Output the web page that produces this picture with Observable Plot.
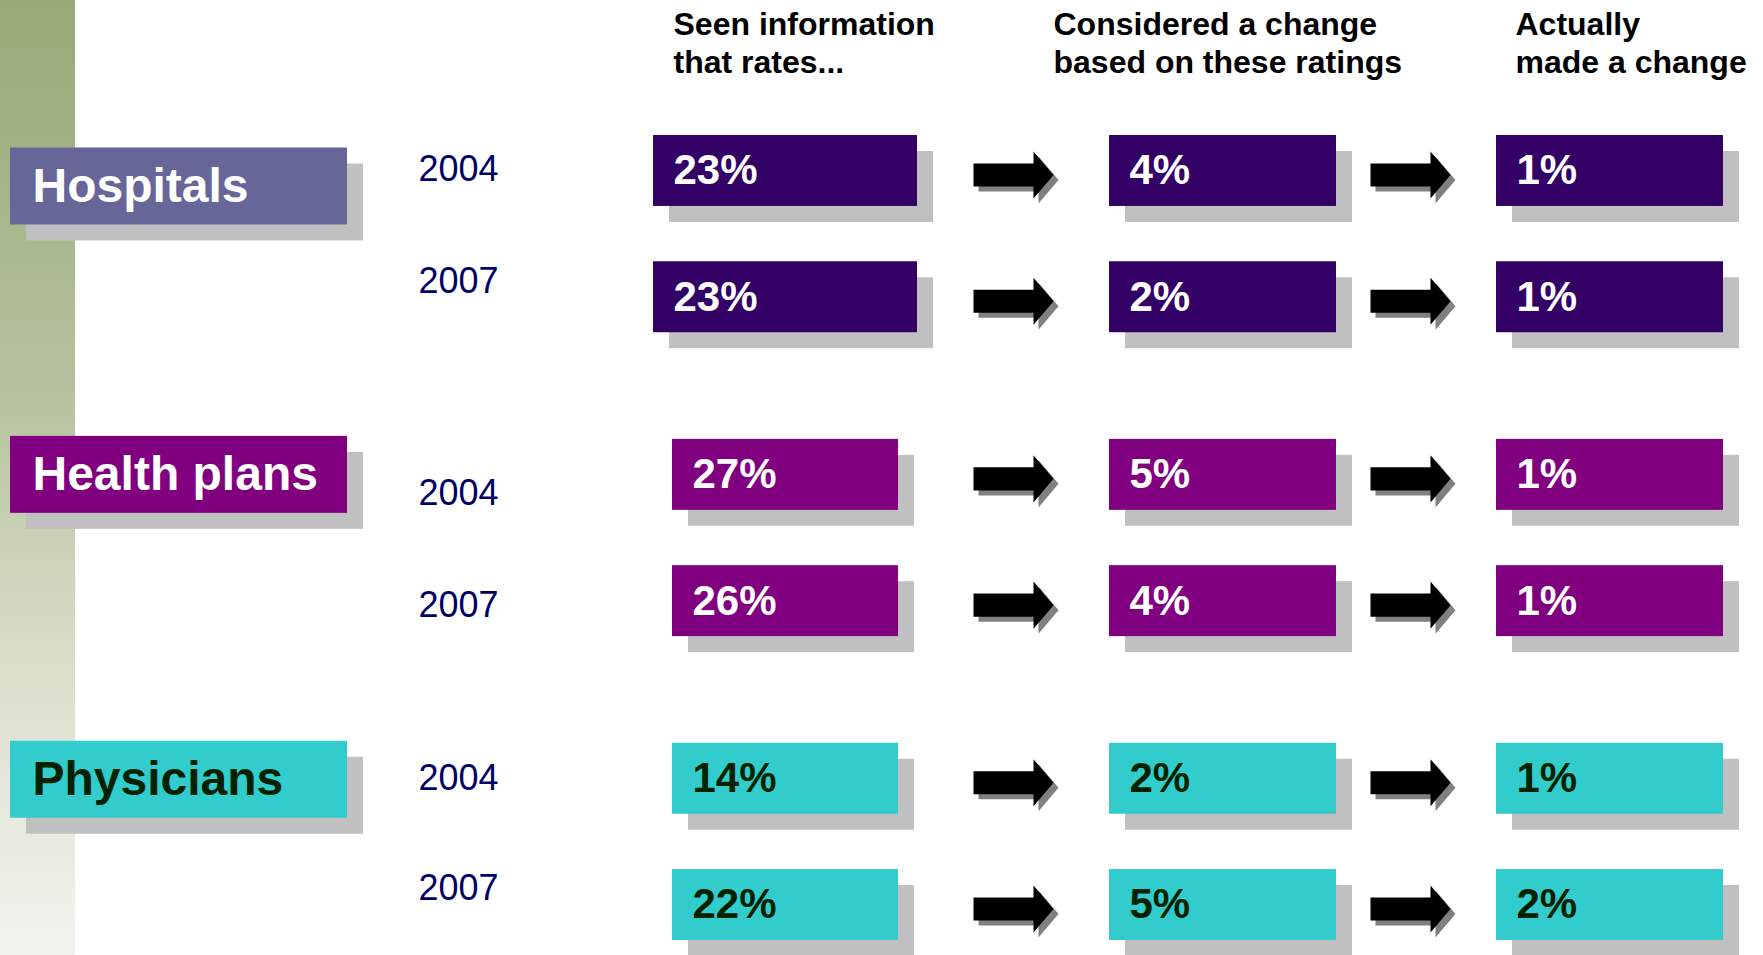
<!DOCTYPE html>
<html>
<head>
<meta charset="utf-8">
<script src="https://cdn.jsdelivr.net/npm/d3@7"></script>
<script src="https://cdn.jsdelivr.net/npm/@observablehq/plot@0.6"></script>
<style>
  html, body { margin: 0; padding: 0; background: #ffffff; }
  #chart {
    width: 1763px; height: 955px; position: relative; overflow: hidden;
    background: linear-gradient(to bottom, #98a977 0%, #b5c19c 40%, #d9dfcb 70%, #f3f3ee 100%) 0 0 / 75px 100% no-repeat, #ffffff;
  }
</style>
</head>
<body>
<div id="chart"></div>
<script>
// ---- data ----
const groups = ["Hospitals", "Health plans", "Physicians"];
const years = ["2004", "2007"];
const seenInfo = [23, 23, 27, 26, 14, 22];          // Seen information that rates...
const consideredChange = [4, 2, 5, 4, 2, 5];        // Considered a change based on these ratings
const madeChange = [1, 1, 1, 1, 1, 2];              // Actually made a change
const headers = ["Seen information\nthat rates...", "Considered a change\nbased on these ratings", "Actually\nmade a change"];

// ---- layout & styles (kept apart from the data) ----
const W = 1763, H = 955;
const layout = {
  label: {x1: 10, x2: 347, textX: 32},
  yearX: 418,
  headerX: [673, 1053, 1515],
  stages: [
    {key: "seen", x1: 672, x2: 898},
    {key: "considered", x1: 1109, x2: 1336},
    {key: "actually", x1: 1496, x2: 1723}
  ],
  arrows: [1013, 1410],
  textPad: 20,
  shadowOffset: 16
};
const groupStyle = {
  "Hospitals":    {label: "#676699", bar: "#330066", text: "#ffffff", labelDy: 15.5, seenWiden: 19, yearDy: {"2004": -2, "2007": -16}},
  "Health plans": {label: "#800080", bar: "#800080", text: "#ffffff", labelDy: 0,    seenWiden: 0,  yearDy: {"2004": 19, "2007": 4}},
  "Physicians":   {label: "#33cccc", bar: "#33cccc", text: "#002200", labelDy: 1,    seenWiden: 0,  yearDy: {"2004": 0, "2007": -17}}
};
const shadow = "#c0c0c0";
const font = "'Liberation Sans', Arial, Helvetica, sans-serif";

const rows = groups.flatMap((g, gi) => years.map((y, yi) => ({
  group: g, year: y,
  seen: seenInfo[gi * 2 + yi],
  considered: consideredChange[gi * 2 + yi],
  actually: madeChange[gi * 2 + yi]
})));

// block arrow glyph as a custom symbol
const blockArrow = {
  draw(ctx, size) {
    const r = Math.sqrt(size / Math.PI);
    const sh = 0.29 * r, hb = 0.5 * r, hh = 0.59 * r;
    ctx.moveTo(-r, -sh); ctx.lineTo(hb, -sh); ctx.lineTo(hb, -hh);
    ctx.lineTo(r, 0); ctx.lineTo(hb, hh); ctx.lineTo(hb, sh);
    ctx.lineTo(-r, sh); ctx.closePath();
  }
};

const so = layout.shadowOffset;
const marks = [];

// group label boxes
groups.forEach(g => {
  const s = groupStyle[g];
  const base = {x1: () => layout.label.x1, x2: () => layout.label.x2, y: () => "2004", fy: d => d, insetTop: -3, insetBottom: -3};
  marks.push(Plot.barX([g], {...base, fill: shadow, dx: so, dy: s.labelDy + so}));
  marks.push(Plot.barX([g], {...base, fill: s.label, dy: s.labelDy}));
  marks.push(Plot.text([g], {
    x: () => layout.label.textX, y: () => "2004", fy: d => d, text: d => d,
    textAnchor: "start", fontSize: 48, fontWeight: "bold", fontFamily: font,
    fill: s.text, dy: s.labelDy
  }));
});

// year labels
rows.forEach(r => {
  marks.push(Plot.text([r], {
    x: () => layout.yearX, y: "year", fy: "group", text: "year",
    textAnchor: "start", fontSize: 36, fontFamily: font, fill: "#000066",
    dy: groupStyle[r.group].yearDy[r.year]
  }));
});

// stage bars
layout.stages.forEach(st => {
  const widen = d => st.key === "seen" ? groupStyle[d.group].seenWiden : 0;
  const x1 = d => st.x1 - widen(d);
  const x2 = d => st.x2 + widen(d);
  marks.push(Plot.barX(rows, {x1, x2, y: "year", fy: "group", fill: shadow, dx: so, dy: so}));
  marks.push(Plot.barX(rows, {x1, x2, y: "year", fy: "group", fill: d => groupStyle[d.group].bar}));
  marks.push(Plot.text(rows, {
    x: d => x1(d) + layout.textPad, y: "year", fy: "group", text: d => d[st.key] + "%",
    textAnchor: "start", fontSize: 42, fontWeight: "bold", fontFamily: font,
    fill: d => groupStyle[d.group].text, dy: 0
  }));
});

// arrows
layout.arrows.forEach(ax => {
  marks.push(Plot.dot(rows, {x: () => ax, y: "year", fy: "group", symbol: blockArrow, r: 40, fill: "#808080", stroke: "none", dx: 5, dy: 9}));
  marks.push(Plot.dot(rows, {x: () => ax, y: "year", fy: "group", symbol: blockArrow, r: 40, fill: "#000000", stroke: "none", dy: 4}));
});

// column headers (anchored to the top facet)
marks.push(Plot.text(headers, {
  x: (d, i) => layout.headerX[i], y: () => "2004", fy: () => "Hospitals", text: d => d,
  textAnchor: "start", lineAnchor: "top", lineHeight: 1.2,
  fontSize: 32, fontWeight: "bold", fontFamily: font, fill: "#000000", dy: -163.5
}));

const chart = Plot.plot({
  width: W, height: H,
  marginTop: 135, marginBottom: 15, marginLeft: 0, marginRight: 0,
  style: {background: "transparent", overflow: "hidden"},
  x: {domain: [0, W], range: [0, W], axis: null},
  y: {domain: years, paddingInner: 0.438, paddingOuter: 0, round: false, axis: null},
  fy: {domain: groups, paddingInner: 0.351, paddingOuter: 0, round: false, axis: null},
  color: {type: "identity"},
  marks
});
document.getElementById("chart").appendChild(chart);
</script>
</body>
</html>
